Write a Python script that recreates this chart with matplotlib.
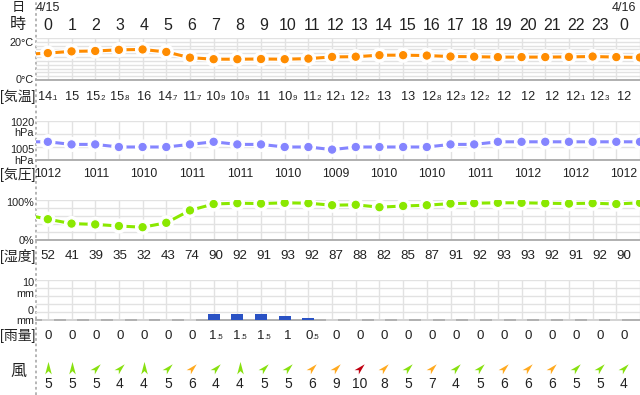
import numpy as np
import matplotlib.pyplot as plt
import matplotlib.patheffects as pe
from matplotlib.path import Path
from matplotlib.offsetbox import TextArea, HPacker, AnnotationBbox

plt.rcParams['font.family'] = ['Liberation Sans', 'Noto Sans CJK JP', 'DejaVu Sans']

# hours -1 and 25 only carry the lines past the plot edges
hours = np.arange(-1, 26)
temp = [13.4, 14.1, 15, 15.2, 15.8, 16, 14.7, 11.7, 10.9, 10.9, 11, 10.9, 11.2, 12.1,
        12.2, 13, 13, 12.8, 12.3, 12.2, 12, 12, 12, 12.1, 12.3, 12, 11.8]
pressure = [1012, 1012, 1011, 1011, 1010, 1010, 1010, 1011, 1012, 1011, 1011, 1010, 1010, 1009,
            1010, 1010, 1010, 1010, 1011, 1011, 1012, 1012, 1012, 1012, 1012, 1012, 1012]
humidity = [64, 52, 41, 39, 35, 32, 43, 74, 90, 92, 91, 93, 92, 87, 88, 82, 85, 87, 91,
            92, 93, 93, 92, 91, 92, 90, 93]

# hours 0 .. 24 (4/15 0時 .. 4/16 0時)
hours_day = np.arange(0, 25)
hour_labels = [str(h) for h in range(24)] + ['0']
date_labels = ['4/15', '4/16']
date_hours = [0, 24]
rain = [0, 0, 0, 0, 0, 0, 0, 1.5, 1.5, 1.5, 1, 0.5, 0, 0, 0, 0, 0, 0, 0, 0, 0, 0, 0, 0, 0]
wind_speed = [5, 5, 5, 4, 4, 5, 6, 4, 4, 5, 5, 6, 9, 10, 8, 5, 7, 4, 5, 6, 6, 6, 5, 5, 4]
wind_dir = ['南', '南', '南西', '南西', '南', '南西', '南西', '南西', '南', '南西', '南西', '南西',
            '南西', '南西', '南西', '南西', '南西', '南西', '南西', '南西', '南西', '南西', '南西',
            '南西', '南西']

W, H = 640, 395
x0, x1 = 36, 640       # pixel extent of the plot columns
hx0, dx = 48, 24       # pixel of hour 0, pixels per hour
xlim = ((x0 - hx0) / dx, (x1 - hx0) / dx)

fig = plt.figure(figsize=(W / 100, H / 100), dpi=100)

# overlay for text rows (x in hours, y in pixels)
ov = fig.add_axes([0, 0, 1, 1])
ov.set_xlim(-hx0 / dx, (W - hx0) / dx)
ov.set_ylim(H, 0)
ov.axis('off')
ov.axvline(xlim[0], color='#b0b0b0', ls=(0, (1.5, 1.5)), lw=1.3)

txt = '#222222'


def num(x, y, v, size=9.6):
    s = f'{v:g}'
    parts = s.split('.')
    kids = [TextArea(parts[0], textprops=dict(size=size, color=txt))]
    if len(parts) > 1:
        kids.append(TextArea('.' + parts[1], textprops=dict(size=size * 0.6, color=txt)))
    box = HPacker(children=kids, align='baseline', pad=0, sep=-0.5)
    ab = AnnotationBbox(box, (x, y), xycoords='data', frameon=False, pad=0,
                        box_alignment=(0.5, 0.5), annotation_clip=False)
    ov.add_artist(ab)


def panel(top, bottom, ylim, ystep):
    ax = fig.add_axes([x0 / W, 1 - bottom / H, (x1 - x0) / W, (bottom - top) / H])
    ax.set_xlim(*xlim)
    ax.set_ylim(*ylim)
    ax.patch.set_alpha(0)
    for s in ['top', 'left', 'right']:
        ax.spines[s].set_visible(False)
    ax.spines['bottom'].set_color('#aaaaaa')
    ax.spines['bottom'].set_linewidth(1.3)
    ax.set_xticks(np.arange(0, 26))
    ax.set_yticks(np.arange(ylim[0], ylim[1] + 0.01, ystep))
    ax.tick_params(length=0, labelbottom=False, labelleft=False)
    ax.grid(True, color='#e2e2e2', lw=1)
    ax.set_axisbelow(True)
    return ax


def line(ax, y, color):
    ax.plot(hours, y, color=color, lw=2.2, marker='o', ms=6.8, mec='white', mew=0.8,
            solid_capstyle='butt',
            path_effects=[pe.Stroke(linewidth=4.2, foreground='white'), pe.Normal()])


# header rows
for lab, yy, sz in [('日', 8, 9.5), ('時', 25, 11.5), ('[気温]', 97, 10), ('[気圧]', 175, 10),
                    ('[湿度]', 256, 10), ('[雨量]', 336, 10), ('風', 371, 11.5)]:
    ov.text((18 - hx0) / dx, yy, lab, ha='center', va='center', size=sz, color=txt)
for d, h in zip(date_labels, date_hours):
    ov.text(h, 8, d, ha='center', va='center', size=9, color=txt)
for h, lab in zip(hours_day, hour_labels):
    ov.text(h, 25, lab, ha='center', va='center', size=11.5, color=txt)

# y labels
ylabx = (34 - hx0) / dx
for lab, yy in [('20°C', 43), ('0°C', 80), ('1020', 122.5), ('hPa', 133), ('1005', 150),
                ('hPa', 161), ('100%', 203), ('0%', 241), ('10', 283.5), ('mm', 294),
                ('0', 311), ('mm', 321.5)]:
    ov.text(ylabx, yy, lab, ha='right', va='center', size=7.8, color=txt)

# temperature
ax_t = panel(38, 80, (0, 22), 2)
line(ax_t, temp, '#ff8c00')
for h, v in zip(hours[1:], temp[1:]):
    num(h, 97, v, size=9.2)

# pressure
ax_p = panel(121, 160, (1005, 1020), 5)
line(ax_p, pressure, '#8585ff')
for h, v in zip(hours[1::2], pressure[1::2]):
    num(h, 174, v, size=8.8)

# humidity
ax_h = panel(200, 240, (0, 100), 20)
line(ax_h, humidity, '#8ae800')
for h, v in zip(hours_day, humidity[1:26]):
    num(h, 256, v)

# rain
ax_r = panel(280, 320, (0, 10), 2)
rain_a = np.array(rain)
ax_r.bar(hours_day, np.where(rain_a > 0, rain_a, 0.35), width=0.5,
         bottom=np.where(rain_a > 0, 0, -0.15),
         color=np.where(rain_a > 0, '#2a52c4', '#d4d4d4'), zorder=3, clip_on=False)
for h, v in zip(hours_day, rain):
    num(h, 336, v)

# wind
base = np.array([(0, 1), (0.5, -0.9), (0, -0.4), (-0.5, -0.9), (0, 1)])
angle = {'南': 0, '南西': 45}
for h, s, d in zip(hours_day, wind_speed, wind_dir):
    th = np.deg2rad(angle[d])
    rot = np.column_stack([base[:, 0] * np.cos(th) + base[:, 1] * np.sin(th),
                           -base[:, 0] * np.sin(th) + base[:, 1] * np.cos(th)])
    mk = Path(rot, [Path.MOVETO, Path.LINETO, Path.LINETO, Path.LINETO, Path.CLOSEPOLY])
    col = '#88e010' if s <= 5 else ('#ffaa20' if s < 10 else '#c00010')
    ov.plot(h, 368, marker=mk, ms=9.5 if d == '南' else 8.5, color=col, mew=0, ls='none')
    num(h, 384, s, size=10)

fig.savefig('out.png', dpi=100)
